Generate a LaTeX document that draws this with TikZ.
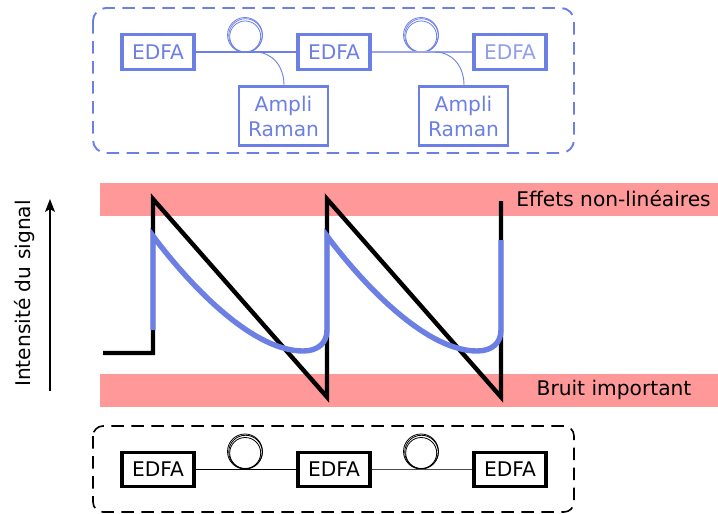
\documentclass[tikz,border=0pt]{standalone}
\usepackage{fontspec}
\setmainfont{DejaVu Sans}
\usetikzlibrary{arrows.meta}
\definecolor{bl}{HTML}{6C7FE4}
\definecolor{rd}{HTML}{FF9999}
\tikzset{
  edfabox/.style={draw,line width=3.2pt,minimum width=72pt,minimum height=34.5pt,inner sep=0pt,font=\fontsize{20.2}{20.2}\selectfont},
  ramanbox/.style={draw=bl,text=bl,line width=2.8pt,minimum width=89pt,minimum height=59pt,inner sep=0pt,align=center,font=\fontsize{20.2}{25}\selectfont},
  frame/.style={dash pattern=on 12.5pt off 7.5pt,line width=1.9pt,rounded corners=13pt},
  band/.style={fill=rd,draw=none},
  coilo/.style={circle,draw,line width=.8pt,minimum size=35pt,inner sep=0pt},
  coilm/.style={circle,draw,line width=.8pt,minimum size=33.5pt,inner sep=0pt},
  coili/.style={circle,draw,line width=.8pt,minimum size=31pt,inner sep=0pt},
  fibre/.style={line width=1.2pt},
  lab/.style={font=\fontsize{20.2}{20.2}\selectfont}
}
\begin{document}
\begin{tikzpicture}[x=1pt,y=-1pt]
\useasboundingbox (0,0) rectangle (718,514);
% bands
\fill[band] (100,183) rectangle (718,216);
\fill[band] (100,374) rectangle (718,407);
\node[lab] (eff) at (613.5,199) {Effets non-linéaires};
\node[lab] (bru) at (614,390) {Bruit important};
% axis
\coordinate (a0) at (50,391);
\coordinate (a1) at (50,199);
\draw[line width=1.2pt,-{Stealth[length=13pt,width=10pt,inset=3pt]}] (a0) -- (a1);
\node[lab,rotate=90] (axl) at (25,293.5) {Intensité du signal};
% traces
\draw[line width=4.4pt] (103,353) -- (153,353) -- (153,199) -- (327,397) -- (327,199) -- (501,397) -- (501,201);
\draw[bl,line width=5.4pt] (153,330) -- (153,236)
  .. controls (195,292) and (255,351) .. (303,351)
  .. controls (318,351) and (327,343) .. (327,330) -- (327,236)
  .. controls (369,292) and (429,351) .. (477,351)
  .. controls (492,351) and (501,343) .. (501,330) -- (501,240);
% top frame
\draw[frame,bl] (93,8) rectangle (574,153);
\node[edfabox,draw=bl,text=bl] (t1) at (158,52) {EDFA};
\node[edfabox,draw=bl,text=bl] (t2) at (334,52) {EDFA};
\node[edfabox,draw=bl,text=bl!75!white] (t3) at (510,52) {EDFA};
\node[ramanbox] (r1) at (283.5,116) {Ampli\\Raman};
\node[ramanbox] (r2) at (463.5,116) {Ampli\\Raman};
\node[coilo,draw=bl] (c1) at (245,35) {};
\node[coilm,draw=bl] (c1m) at (245.5,35.5) {};
\node[coili,draw=bl] (c1i) at (245.2,36.5) {};
\node[coilo,draw=bl] (c2) at (421,35) {};
\node[coilm,draw=bl] (c2m) at (421.5,35.5) {};
\node[coili,draw=bl] (c2i) at (421.2,36.5) {};
\draw[fibre,bl] (t1) -- (t2);
\draw[fibre,bl!70!white] (t2) -- (t3);
\coordinate (j1) at (255,52);
\coordinate (j2) at (435,52);
\draw[bl,line width=.9pt] (j1) .. controls (272,52) and (284,66) .. (r1.north -| 284,0);
\draw[bl,line width=.9pt] (j2) .. controls (452,52) and (464,66) .. (r2.north -| 464,0);
% bottom frame
\draw[frame,black,line width=1.6pt,rounded corners=10pt] (93,426) rectangle (574,512);
\node[edfabox] (b1) at (158,469.5) {EDFA};
\node[edfabox] (b2) at (334,469.5) {EDFA};
\node[edfabox] (b3) at (510,469.5) {EDFA};
\node[coilo] (c3) at (245,451.5) {};
\node[coilm] (c3m) at (245.5,452) {};
\node[coili] (c3i) at (245.2,453) {};
\node[coilo] (c4) at (421,451.5) {};
\node[coilm] (c4m) at (421.5,452) {};
\node[coili] (c4i) at (421.2,453) {};
\draw[fibre] (b1) -- (b2);
\draw[fibre,black!70!white] (b2) -- (b3);
\end{tikzpicture}
\end{document}
